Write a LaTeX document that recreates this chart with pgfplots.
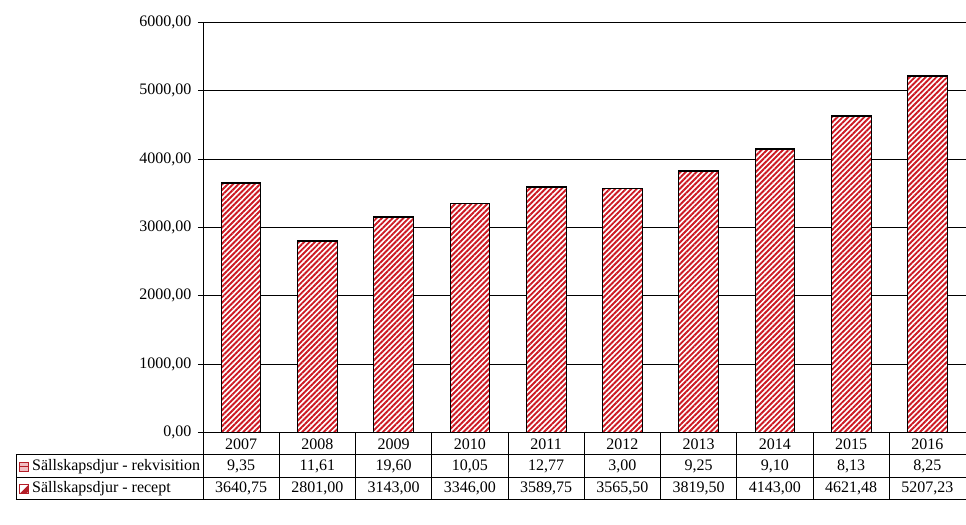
\documentclass[border=0pt]{standalone}
\usepackage{fontspec}
\setmainfont{Liberation Serif}
\usepackage{pgfplots}
\pgfplotsset{compat=1.18}
\usetikzlibrary{patterns.meta}
\definecolor{hatchred}{RGB}{205,25,35}
\definecolor{iconred}{RGB}{180,30,40}
\definecolor{iconpink}{RGB}{240,190,195}

\begin{document}
\begin{tikzpicture}[x=1bp,y=1bp,font=\fontsize{16bp}{19bp}\selectfont]
\path (-203,-92) rectangle (763,433);
\begin{axis}[
  at={(0,0)}, anchor=south west,
  scale only axis, width=763bp, height=411bp,
  xmin=-0.5, xmax=9.5, ymin=0, ymax=6000,
  ybar stacked, bar width=0.52,
  axis x line=none,
  axis y line=left,
  axis line style={-, black, line width=0.8bp},
  xtick=\empty,
  ytick={0,1000,...,6000},
  tick align=outside,
  major tick length=5bp,
  ytick style={black, line width=0.8bp},
  ymajorgrids,
  grid style={black, line width=0.8bp},
  yticklabel style={font=\fontsize{16bp}{19bp}\selectfont, xshift=-3bp},
  /pgf/number format/.cd, fixed, fixed zerofill, precision=2, use comma, 1000 sep={}, assume math mode=true,
]
\addplot[draw=black, line width=0.8bp, preaction={fill=white},
  pattern={Lines[angle=45,distance=3.8bp,line width=1.9bp]}, pattern color=hatchred]
coordinates {(0,3640.75) (1,2801.00) (2,3143.00) (3,3346.00) (4,3589.75)
             (5,3565.50) (6,3819.50) (7,4143.00) (8,4621.48) (9,5207.23)};
\addplot[draw=black, line width=0.8bp, preaction={fill=white},
  pattern={Lines[angle=0,distance=3bp,line width=0.6bp]}, pattern color=hatchred]
coordinates {(0,9.35) (1,11.61) (2,19.60) (3,10.05) (4,12.77)
             (5,3.00) (6,9.25) (7,9.10) (8,8.13) (9,8.25)};
\end{axis}
% data table below the chart
\begin{scope}[line width=0.8bp]
\draw (-187,-22) -- (763,-22);
\draw (-187,-45) -- (763,-45);
\draw (-187,-67) -- (763,-67);
\draw (-187,-22) -- (-187,-67);
\foreach \k in {0,...,9} {\draw ({76.3*\k},0) -- ({76.3*\k},-67);}
\end{scope}
\foreach \i/\yr/\rk/\rc in {0/2007/{9,35}/{3640,75},1/2008/{11,61}/{2801,00},
  2/2009/{19,60}/{3143,00},3/2010/{10,05}/{3346,00},4/2011/{12,77}/{3589,75},
  5/2012/{3,00}/{3565,50},6/2013/{9,25}/{3819,50},7/2014/{9,10}/{4143,00},
  8/2015/{8,13}/{4621,48},9/2016/{8,25}/{5207,23}} {
  \node[inner sep=0pt] at ({76.3*(\i+0.5)},-11) {\yr};
  \node[inner sep=0pt] at ({76.3*(\i+0.5)},-33.5) {\rk};
  \node[inner sep=0pt] at ({76.3*(\i+0.5)},-56) {\rc};
}
% legend keys
\draw[iconred, line width=0.8bp, fill=iconpink] (-183.5,-38.5) rectangle (-174.5,-29.5);
\draw[iconred, line width=0.8bp] (-183.5,-34) -- (-174.5,-34);
\draw[iconred, line width=0.8bp, fill=white] (-183.5,-61) rectangle (-174.5,-52);
\fill[iconred] (-183.5,-61) -- (-177,-61) -- (-174.5,-58.5) -- (-174.5,-52) -- cycle;
\draw[iconred, line width=0.8bp] (-183.5,-61) rectangle (-174.5,-52);
\node[anchor=west, inner sep=0pt] at (-171,-33.5) {Sällskapsdjur - rekvisition};
\node[anchor=west, inner sep=0pt] at (-171,-56) {Sällskapsdjur - recept};
\end{tikzpicture}
\end{document}
